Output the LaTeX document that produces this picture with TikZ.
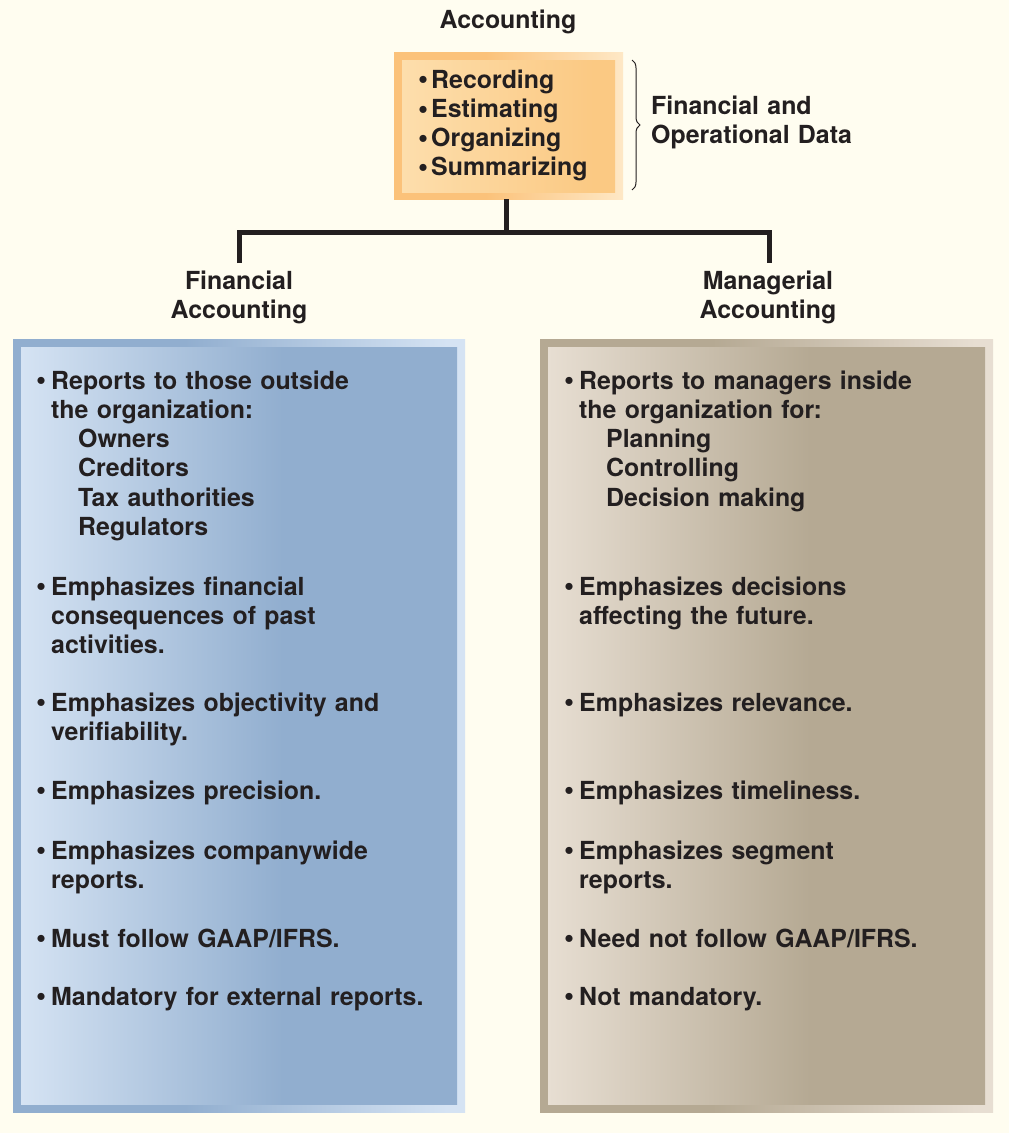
\documentclass[tikz,border=0pt]{standalone}
\usepackage{fontspec}
\setmainfont{TeX Gyre Heros}
\usetikzlibrary{decorations.pathreplacing}

\definecolor{paper}{HTML}{FFFDF0}
\definecolor{ink}{HTML}{231F20}
\definecolor{blueD}{HTML}{91AECF}
\definecolor{blueL}{HTML}{D5E3F3}
\definecolor{tanD}{HTML}{B5A993}
\definecolor{tanL}{HTML}{E7DED2}
\definecolor{orgD}{HTML}{FBC27A}
\definecolor{orgL}{HTML}{FEE8C6}
\definecolor{orgM}{HTML}{FBC983}
\definecolor{orgP}{HTML}{FDDEAC}

\pgfdeclarehorizontalshading{blueout}{100bp}{color(0bp)=(blueD); color(25bp)=(blueD); color(44bp)=(blueD); color(73bp)=(blueL); color(100bp)=(blueL)}
\pgfdeclarehorizontalshading{bluein}{100bp}{color(0bp)=(blueL); color(25bp)=(blueL); color(55bp)=(blueD); color(100bp)=(blueD)}
\pgfdeclarehorizontalshading{tanout}{100bp}{color(0bp)=(tanD); color(25bp)=(tanD); color(44bp)=(tanD); color(73bp)=(tanL); color(100bp)=(tanL)}
\pgfdeclarehorizontalshading{tanin}{100bp}{color(0bp)=(tanL); color(25bp)=(tanL); color(55bp)=(tanD); color(100bp)=(tanD)}
\pgfdeclarehorizontalshading{orgout}{100bp}{color(0bp)=(orgD); color(25bp)=(orgD); color(45bp)=(orgD); color(75bp)=(orgL); color(100bp)=(orgL)}
\pgfdeclarehorizontalshading{orgin}{100bp}{color(0bp)=(orgP); color(25bp)=(orgP); color(70bp)=(orgM); color(100bp)=(orgM)}

\newcommand{\bodyfont}{\fontsize{24.9}{29.3}\selectfont\bfseries\color{ink}}
\newcommand{\bulsym}{\raisebox{-0.03em}{\scalebox{1.15}{\textbullet}}}
\newcommand{\bul}{\makebox[15pt][l]{\bulsym}}
\newcommand{\tbul}{\makebox[13pt][l]{\bulsym}}
\newcommand{\cont}{\hspace*{15pt}}
\newcommand{\sub}{\hspace*{42pt}}

\tikzset{
  panel/.style={draw=none, inner sep=0pt, anchor=north west},
  item/.style={anchor=base west, align=left, text width=440pt, inner sep=0pt, font=\bodyfont},
  head/.style={anchor=base, align=center, text width=260pt, inner sep=0pt, font=\bodyfont},
  link/.style={draw=ink, line width=5pt},
}

\begin{document}
\begin{tikzpicture}[x=1pt, y=-1pt]
  \fill[paper] (0,0) rectangle (1009,1133);
  \useasboundingbox (0,0) rectangle (1009,1133);

  % top box
  \node[panel, shading=orgout, minimum width=229pt, minimum height=147pt] (topbox) at (394,52) {};
  \node[panel, shading=orgin, minimum width=213pt, minimum height=132pt] (topin) at (402,60) {};
  \node[head] (acct) at (508,28) {Accounting};
  \node[item, text width=200pt] (tasks) at (418,88) {\tbul Recording\\ \tbul Estimating\\ \tbul Organizing\\ \tbul Summarizing};

  % brace and data label
  \coordinate (braceA) at (632,60);
  \coordinate (braceB) at (632,190);
  \draw[ink, line width=1pt, decorate, decoration={brace, amplitude=8pt}] (braceA) -- (braceB);
  \node[item, text width=300pt] (data) at (651,114) {Financial and\\Operational Data};

  % two kinds of accounting
  \node[head] (finhead) at (239,289) {Financial\\Accounting};
  \node[head] (manhead) at (768,289) {Managerial\\Accounting};

  \coordinate (fork) at (506,232);
  \coordinate (finTop) at (239,263);
  \coordinate (manTop) at (769,263);
  \draw[link] (fork |- topbox.south) -- (fork);
  \draw[link] (finTop) |- (fork) -| (manTop);

  % financial panel
  \node[panel, shading=blueout, minimum width=452pt, minimum height=773pt] (finbox) at (13,339) {};
  \node[panel, shading=bluein, minimum width=436pt, minimum height=757pt] (finin) at (21,347) {};
  \node[item] (f1) at (36,389) {\bul Reports to those outside\\ \cont the organization:\\ \sub Owners\\ \sub Creditors\\ \sub Tax authorities\\ \sub Regulators};
  \node[item] (f2) at (36,595) {\bul Emphasizes financial\\ \cont consequences of past\\ \cont activities.};
  \node[item] (f3) at (36,711) {\bul Emphasizes objectivity and\\ \cont verifiability.};
  \node[item] (f4) at (36,799) {\bul Emphasizes precision.};
  \node[item] (f5) at (36,859) {\bul Emphasizes companywide\\ \cont reports.};
  \node[item] (f6) at (36,947) {\bul Must follow GAAP/IFRS.};
  \node[item] (f7) at (36,1005) {\bul Mandatory for external reports.};

  % managerial panel
  \node[panel, shading=tanout, minimum width=453pt, minimum height=773pt] (manbox) at (540,339) {};
  \node[panel, shading=tanin, minimum width=437pt, minimum height=757pt] (manin) at (548,347) {};
  \node[item] (m1) at (564,389) {\bul Reports to managers inside\\ \cont the organization for:\\ \sub Planning\\ \sub Controlling\\ \sub Decision making};
  \node[item] (m2) at (564,595) {\bul Emphasizes decisions\\ \cont affecting the future.};
  \node[item] (m3) at (564,711) {\bul Emphasizes relevance.};
  \node[item] (m4) at (564,799) {\bul Emphasizes timeliness.};
  \node[item] (m5) at (564,859) {\bul Emphasizes segment\\ \cont reports.};
  \node[item] (m6) at (564,947) {\bul Need not follow GAAP/IFRS.};
  \node[item] (m7) at (564,1005) {\bul Not mandatory.};
\end{tikzpicture}
\end{document}
